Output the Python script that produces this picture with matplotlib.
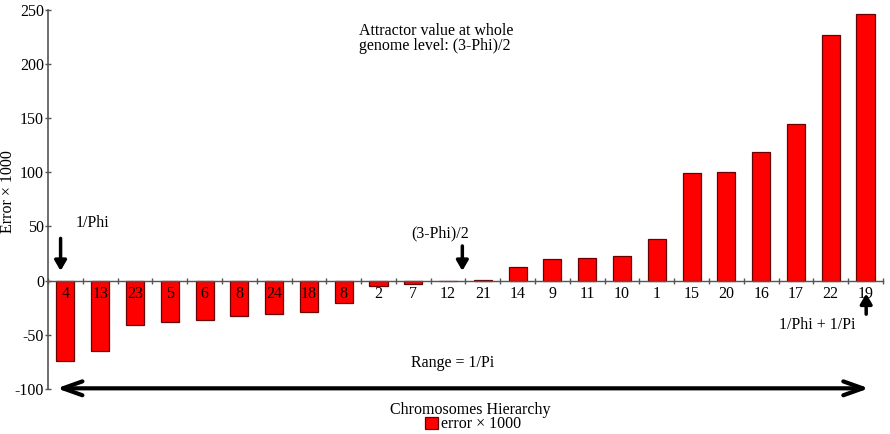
import matplotlib
matplotlib.use("Agg")
import matplotlib.pyplot as plt
import numpy as np

chromosomes = ["4", "13", "23", "5", "6", "8", "24", "18", "8", "2", "7", "12",
               "21", "14", "9", "11", "10", "1", "15", "20", "16", "17", "22", "19"]
error_x1000 = [-74, -65, -41, -38, -36, -33, -31, -29, -21, -5, -3, 0,
               1, 13, 20, 21, 23, 38, 99, 100, 119, 145, 227, 246]
y_ticks = [-100, -50, 0, 50, 100, 150, 200, 250]

plt.rcParams["font.family"] = ["Liberation Serif", "DejaVu Serif"]
plt.rcParams["axes.unicode_minus"] = False

fig = plt.figure(figsize=(8.9, 4.34), dpi=100)
ax = fig.add_axes([0.054, 0.104, 0.938, 0.873])
ax.set_axisbelow(False)

x = np.arange(len(chromosomes))
bars = ax.bar(x, error_x1000, width=0.52, color="#ff0000", edgecolor="#6a0000",
              linewidth=0.9, label="error × 1000", zorder=1)

ax.set_xlim(-0.5, len(chromosomes) - 0.5)
ax.set_ylim(-100, 250)

for s in ["top", "right"]:
    ax.spines[s].set_visible(False)
ax.spines["bottom"].set_position(("data", 0))
ax.spines["bottom"].set_color("#555555")
ax.spines["left"].set_color("#555555")
ax.spines["left"].set_linewidth(1.2)
ax.spines["bottom"].set_linewidth(1.0)

ax.set_yticks(y_ticks)
ax.set_yticklabels([str(v) for v in y_ticks])
ax.tick_params(axis="y", direction="inout", length=4, width=1, color="#555555",
               labelsize=11.5, pad=1)

ax.set_xticks(x)
ax.set_xticklabels(chromosomes)
ax.tick_params(axis="x", which="major", length=0, labelsize=11.5, pad=4)
ax.set_xticks(np.arange(-0.5, len(chromosomes), 1.0), minor=True)
ax.tick_params(axis="x", which="minor", direction="inout", length=5, width=1,
               color="#555555")

ax.set_ylabel("Error × 1000", fontsize=11.5)
ax.yaxis.set_label_coords(-0.038, 0.52)

# annotations
ax.text(8.43, 238, "Attractor value at whole\ngenome level: (3-Phi)/2",
        ha="left", va="top", fontsize=11.5, linespacing=0.95)
ax.text(0.29, 53, "1/Phi", ha="left", va="center", fontsize=11.5)
ax.annotate("", xy=(-0.14, 9), xytext=(-0.14, 39),
            arrowprops=dict(arrowstyle="-|>,head_length=0.6,head_width=0.35",
                            lw=2.5, color="black", shrinkA=0, shrinkB=0))
ax.text(10.78, 44, "(3-Phi)/2", ha="center", va="center", fontsize=11.5)
ax.annotate("", xy=(11.41, 9), xytext=(11.41, 32),
            arrowprops=dict(arrowstyle="-|>,head_length=0.6,head_width=0.35",
                            lw=2.5, color="black", shrinkA=0, shrinkB=0))
ax.text(21.6, -40.8, "1/Phi + 1/Pi", ha="center", va="center", fontsize=11.5)
ax.annotate("", xy=(23.02, -12), xytext=(23.02, -31),
            arrowprops=dict(arrowstyle="-|>,head_length=0.6,head_width=0.35",
                            lw=2.5, color="black", shrinkA=0, shrinkB=0))
ax.text(11.12, -75.7, "Range = 1/Pi", ha="center", va="center", fontsize=11.5)
ax.annotate("", xy=(-0.25, -99.5), xytext=(23.1, -99.5),
            arrowprops=dict(arrowstyle="<->,head_length=1.4,head_width=0.5",
                            lw=3, color="black", shrinkA=0, shrinkB=0),
            annotation_clip=False)

fig.text(0.528, 0.056, "Chromosomes Hierarchy", ha="center", va="center", fontsize=11.5)
fig.legend(handles=[bars], labels=["error × 1000"], loc="lower left",
           bbox_to_anchor=(0.478, 0.004), frameon=False, fontsize=11.5,
           borderpad=0, borderaxespad=0, handlelength=0.8, handleheight=0.8,
           handletextpad=0.2)

fig.savefig("out.png", dpi=100)
